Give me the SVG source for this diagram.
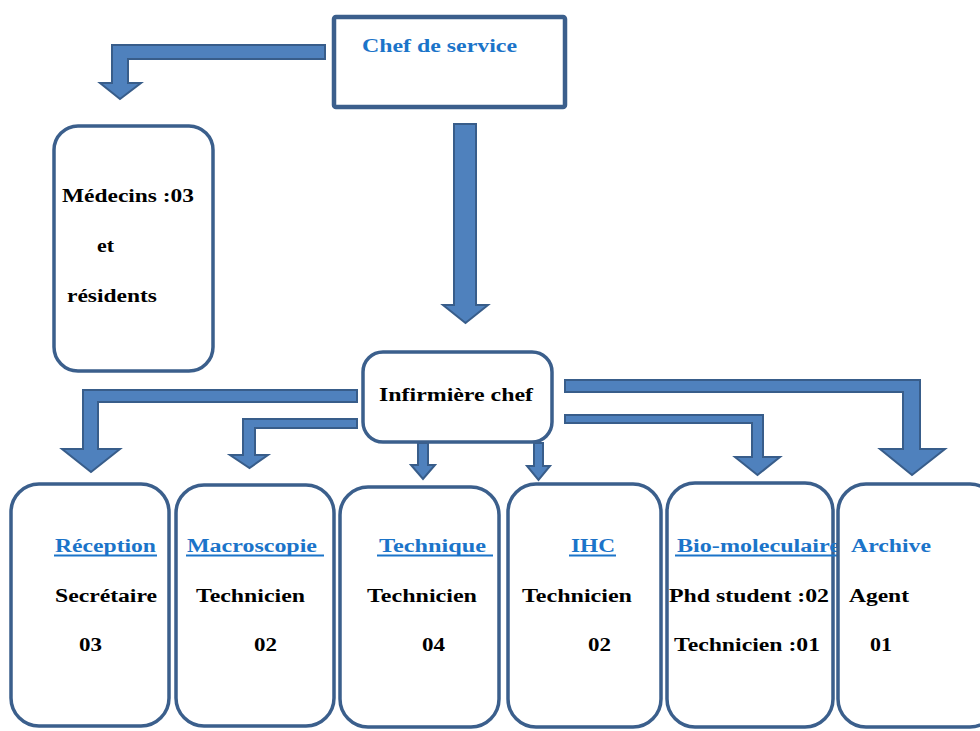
<svg xmlns="http://www.w3.org/2000/svg" width="980" height="731" viewBox="0 0 980 731">
<style>
.box{fill:#fff;stroke:#3b5f8c;stroke-width:3.5}
.arr{fill:#4f81bd;stroke:#385d8a;stroke-width:2;stroke-linejoin:miter}
.t{font-family:"Liberation Serif","Times New Roman",serif;font-weight:bold;font-size:18px;fill:#000}
.h{fill:#1b74c9}
.u{stroke:#1b74c9;stroke-width:2.2}
</style>
<rect width="980" height="731" fill="#fff"/>
<g id="connectors">
<polygon class="arr" points="325,45 112,45 112,83 100,83 120,99 141,83 128,83 128,59 325,59"/>
<polygon class="arr" points="454,124 476,124 476,305 488,305 465.5,323 443,305 454,305"/>
<polygon class="arr" points="357,390 83,390 83,449 62,449 91,472 120,449 98,449 98,402 357,402"/>
<polygon class="arr" points="357,419 243,419 243,455 230,455 249.5,468 268,455 255,455 255,428 357,428"/>
<polygon class="arr" points="418,443 428,443 428,465 435,465 423,479 411,465 418,465"/>
<polygon class="arr" points="534,443 543,443 543,466 550,466 538.5,480 527,466 534,466"/>
<polygon class="arr" points="565,380 920,380 920,449 945,449 912,475 880,449 903,449 903,392 565,392"/>
<polygon class="arr" points="565,415 763,415 763,457 780,457 757.5,475 735,457 752,457 752,423 565,423"/>
</g>
<g id="chef">
<rect class="box" x="334" y="17" width="231" height="90" rx="2" style="stroke-width:4.5"/>
<text class="t h" x="362" y="52" textLength="155" lengthAdjust="spacingAndGlyphs">Chef de service</text>
</g>
<g id="medecins">
<rect class="box" x="54" y="126" width="159" height="245" rx="24"/>
<text class="t" x="62" y="202" textLength="132" lengthAdjust="spacingAndGlyphs">Médecins :03</text>
<text class="t" x="97" y="252" textLength="17" lengthAdjust="spacingAndGlyphs">et</text>
<text class="t" x="67" y="302" textLength="90" lengthAdjust="spacingAndGlyphs">résidents</text>
</g>
<g id="infirmiere">
<rect class="box" x="363" y="352" width="189" height="90" rx="20"/>
<text class="t" x="379" y="401" textLength="154" lengthAdjust="spacingAndGlyphs">Infirmière chef</text>
</g>
<g id="reception">
<rect class="box" x="11" y="484" width="158" height="242" rx="28"/>
<text class="t h" x="55" y="552" textLength="101" lengthAdjust="spacingAndGlyphs">Réception</text>
<line class="u" x1="54" y1="555.5" x2="157" y2="555.5"/>
<text class="t" x="55" y="602" textLength="102" lengthAdjust="spacingAndGlyphs">Secrétaire</text>
<text class="t" x="79" y="651" textLength="23" lengthAdjust="spacingAndGlyphs">03</text>
</g>
<g id="macroscopie">
<rect class="box" x="176" y="485" width="158" height="241" rx="28"/>
<text class="t h" x="187" y="552" textLength="130" lengthAdjust="spacingAndGlyphs">Macroscopie</text>
<line class="u" x1="186" y1="555.5" x2="324" y2="555.5"/>
<text class="t" x="196" y="602" textLength="109" lengthAdjust="spacingAndGlyphs">Technicien</text>
<text class="t" x="254" y="651" textLength="23" lengthAdjust="spacingAndGlyphs">02</text>
</g>
<g id="technique">
<rect class="box" x="340" y="487" width="159" height="240" rx="28"/>
<text class="t h" x="379" y="552" textLength="107" lengthAdjust="spacingAndGlyphs">Technique</text>
<line class="u" x1="377" y1="555.5" x2="493" y2="555.5"/>
<text class="t" x="367" y="602" textLength="110" lengthAdjust="spacingAndGlyphs">Technicien</text>
<text class="t" x="422" y="651" textLength="23" lengthAdjust="spacingAndGlyphs">04</text>
</g>
<g id="ihc">
<rect class="box" x="508" y="484" width="153" height="243" rx="28"/>
<text class="t h" x="571" y="552" textLength="44" lengthAdjust="spacingAndGlyphs">IHC</text>
<line class="u" x1="569" y1="555.5" x2="616" y2="555.5"/>
<text class="t" x="522" y="602" textLength="110" lengthAdjust="spacingAndGlyphs">Technicien</text>
<text class="t" x="588" y="651" textLength="23" lengthAdjust="spacingAndGlyphs">02</text>
</g>
<g id="biomoleculaire">
<rect class="box" x="667" y="483" width="166" height="244" rx="28"/>
<text class="t h" x="677" y="552" textLength="163" lengthAdjust="spacingAndGlyphs">Bio-moleculaire</text>
<line class="u" x1="675" y1="555.5" x2="838" y2="555.5"/>
<text class="t" x="669" y="602" textLength="160" lengthAdjust="spacingAndGlyphs">Phd student :02</text>
<text class="t" x="674" y="651" textLength="146" lengthAdjust="spacingAndGlyphs">Technicien :01</text>
</g>
<g id="archive">
<rect class="box" x="838" y="484" width="160" height="243" rx="28"/>
<text class="t h" x="851" y="552" textLength="80" lengthAdjust="spacingAndGlyphs">Archive</text>
<text class="t" x="849" y="602" textLength="60" lengthAdjust="spacingAndGlyphs">Agent</text>
<text class="t" x="870" y="651" textLength="22" lengthAdjust="spacingAndGlyphs">01</text>
</g>
</svg>
